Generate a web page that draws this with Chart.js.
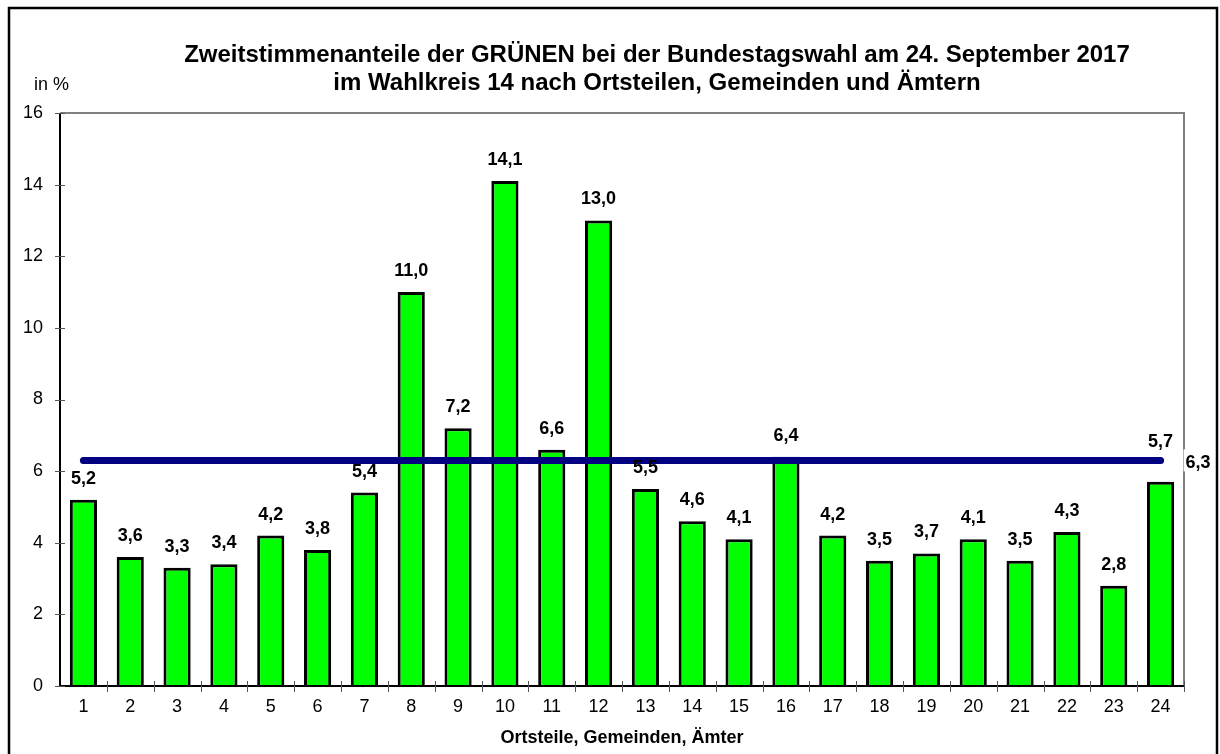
<!DOCTYPE html>
<html>
<head>
<meta charset="utf-8">
<script src="https://cdn.jsdelivr.net/npm/chart.js@4.4.1/dist/chart.umd.min.js"></script>
<style>
  html, body { margin: 0; padding: 0; background: #fff; }
  #wrap { width: 1220px; height: 754px; }
</style>
</head>
<body>
<div id="wrap"><canvas id="barChart" width="1220" height="754"></canvas></div>
<script>
const categories = ['1','2','3','4','5','6','7','8','9','10','11','12','13','14','15','16','17','18','19','20','21','22','23','24'];
const shares = [5.2, 3.6, 3.3, 3.4, 4.2, 3.8, 5.4, 11.0, 7.2, 14.1, 6.6, 13.0, 5.5, 4.6, 4.1, 6.4, 4.2, 3.5, 3.7, 4.1, 3.5, 4.3, 2.8, 5.7];
const average = 6.3;
const titleLines = ['Zweitstimmenanteile der GRÜNEN bei der Bundestagswahl am 24. September 2017',
                    'im Wahlkreis 14 nach Ortsteilen, Gemeinden und Ämtern'];
const yTicks = [0, 2, 4, 6, 8, 10, 12, 14, 16];

const fmt = v => v.toFixed(1).replace('.', ',');
const FONT = 'Arial, "Liberation Sans", sans-serif';

// frame, axes, tick marks, value labels, titles
const decor = {
  id: 'decor',
  afterDatasetsDraw(chart) {
    const { ctx, chartArea: a, scales: { x, y } } = chart;
    ctx.save();

    // gray top/right border of plot area
    ctx.strokeStyle = '#808080';
    ctx.lineWidth = 2;
    ctx.beginPath();
    ctx.moveTo(a.left, a.top);
    ctx.lineTo(a.right, a.top);
    ctx.lineTo(a.right, a.bottom);
    ctx.stroke();

    // black axes
    ctx.strokeStyle = '#000';
    ctx.lineWidth = 2;
    ctx.beginPath();
    ctx.moveTo(a.left, a.top);
    ctx.lineTo(a.left, a.bottom);
    ctx.lineTo(a.right, a.bottom);
    ctx.stroke();

    // tick marks crossing the axes
    ctx.lineWidth = 1;
    ctx.strokeStyle = '#555';
    ctx.beginPath();
    yTicks.forEach(v => {
      const py = Math.round(y.getPixelForValue(v)) + 0.5;
      ctx.moveTo(a.left - 5, py);
      ctx.lineTo(a.left + 5, py);
    });
    const step = (a.right - a.left) / categories.length;
    for (let k = 1; k <= categories.length; k++) {
      const px = Math.round(a.left + k * step) + 0.5;
      ctx.moveTo(px, a.bottom - 5);
      ctx.lineTo(px, a.bottom + 6);
    }
    ctx.stroke();

    // value labels over the bars
    const lineY = y.getPixelForValue(average);
    ctx.fillStyle = '#000';
    ctx.font = 'bold 18px ' + FONT;
    ctx.textAlign = 'center';
    ctx.textBaseline = 'alphabetic';
    const meta = chart.getDatasetMeta(0);
    meta.data.forEach((bar, i) => {
      let ly = bar.y - 16;
      if (Math.abs(ly - 6 - lineY) < 5) ly = lineY - 13;
      ctx.fillText(fmt(shares[i]), bar.x, ly);
    });

    // average label with white background
    const lastPt = chart.getDatasetMeta(1).data[categories.length - 1];
    const txt = fmt(average);
    const w = ctx.measureText(txt).width;
    ctx.fillStyle = '#fff';
    ctx.fillRect(lastPt.x + 23, lineY - 11, w + 4, 22);
    ctx.fillStyle = '#000';
    ctx.textAlign = 'left';
    ctx.fillText(txt, lastPt.x + 25, lineY + 8);

    // title
    ctx.textAlign = 'center';
    ctx.font = 'bold 24px ' + FONT;
    ctx.fillText(titleLines[0], 657, 62);
    ctx.fillText(titleLines[1], 657, 90);

    // unit
    ctx.font = '18px ' + FONT;
    ctx.textAlign = 'left';
    ctx.fillText('in %', 34, 90);

    // outer frame
    ctx.strokeStyle = '#000';
    ctx.lineWidth = 2.5;
    ctx.strokeRect(9, 8, 1208, 760);
    ctx.restore();
  }
};

const ctx = document.getElementById('barChart').getContext('2d');
new Chart(ctx, {
  type: 'bar',
  data: {
    labels: categories,
    datasets: [{
      data: shares,
      backgroundColor: '#00ff00',
      borderColor: '#000',
      borderWidth: 3,
      categoryPercentage: 1,
      barPercentage: 0.58,
      order: 2
    }, {
      type: 'line',
      data: categories.map(() => average),
      borderColor: '#000080',
      borderWidth: 7,
      borderCapStyle: 'round',
      pointRadius: 0,
      fill: false,
      order: 1
    }]
  },
  options: {
    responsive: false,
    animation: false,
    layout: { padding: { left: 0, right: 36, top: 113, bottom: 0 } },
    plugins: {
      legend: { display: false },
      tooltip: { enabled: false },
      title: { display: false }
    },
    scales: {
      x: {
        grid: { display: false, drawTicks: false },
        border: { display: false },
        ticks: { color: '#000', font: { family: FONT, size: 18 }, padding: 10, maxRotation: 0 },
        title: { display: true, text: 'Ortsteile, Gemeinden, Ämter', color: '#000',
                 font: { family: FONT, size: 18, weight: 'bold' }, padding: { top: 2, bottom: 5 } },
        afterFit(s) { s.height = 68; }
      },
      y: {
        min: 0, max: 16,
        grid: { display: false, drawTicks: false },
        border: { display: false },
        ticks: { stepSize: 2, color: '#000', font: { family: FONT, size: 18 }, padding: 17 },
        afterFit(s) { s.width = 60; }
      }
    }
  },
  plugins: [decor]
});
</script>
</body>
</html>
